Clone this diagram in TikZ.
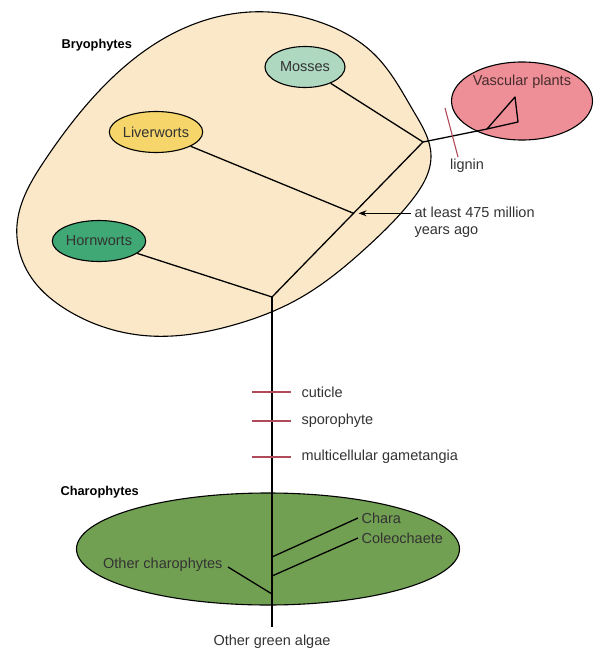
\documentclass[tikz,border=0pt]{standalone}
\usepackage{fontspec}
\setmainfont{Liberation Sans}
\usepackage{tikz}
\usetikzlibrary{hobby, calc, shapes.geometric, arrows.meta}
\definecolor{bryofill}{HTML}{FBE8C8}
\definecolor{mossfill}{HTML}{AED8BF}
\definecolor{liverfill}{HTML}{F6D56A}
\definecolor{hornfill}{HTML}{3FA874}
\definecolor{vascfill}{HTML}{EE8F97}
\definecolor{charofill}{HTML}{72A052}
\definecolor{tickred}{HTML}{B04A5A}
\definecolor{txtgrey}{HTML}{333333}
\tikzset{
    taxon/.style={ellipse, draw, line width=1.1pt, minimum width=80pt, minimum height=41pt,
        inner sep=0pt, font=\fontsize{14.5}{16}\selectfont, text=txtgrey},
    grouplabel/.style={font=\bfseries\fontsize{12.8}{14}\selectfont, anchor=west},
    trait/.style={font=\fontsize{14.5}{17}\selectfont, text=txtgrey, anchor=west},
    branch/.style={line width=1.3pt},
    traittick/.style={tickred, line width=1.1pt},
}

\begin{document}
\begin{tikzpicture}[x=1pt, y=-1pt, use Hobby shortcut]
    \useasboundingbox (0,0) rectangle (596,650);
    % bryophyte blob
    \coordinate (B1) at (17, 225);
    \coordinate (B2) at (33, 280);
    \coordinate (B3) at (67, 310);
    \coordinate (B4) at (150, 336);
    \coordinate (B5) at (230, 326);
    \coordinate (B6) at (300, 298);
    \coordinate (B7) at (367, 247);
    \coordinate (B8) at (412, 200);
    \coordinate (B9) at (431, 156);
    \coordinate (B10) at (414, 112);
    \coordinate (B11) at (374, 54);
    \coordinate (B12) at (325, 24);
    \coordinate (B13) at (250, 12);
    \coordinate (B14) at (180, 30);
    \coordinate (B15) at (100, 90);
    \coordinate (B16) at (45, 160);
    \draw[fill=bryofill, line width=1.1pt]
    ([closed] B1)..(B2)..(B3)..(B4)..(B5)..(B6)..(B7)..(B8)..(B9)..(B10)..(B11)..(B12)..(B13)..(B14)..(B15)..(B16);

    % branching points
    \coordinate (J1) at (423, 142);
    \coordinate (J3) at (272, 297);
    \coordinate (J2) at ($(J3)!0.54!(J1)$);
    \coordinate (V) at (487, 129);
    \coordinate (G) at (272, 627);

    \node[ellipse, draw, line width=1.1pt, fill=charofill, minimum width=383pt, minimum height=112pt] (charo) at (268, 549) {};
    \node[ellipse, draw, line width=1.1pt, fill=vascfill, minimum width=141pt, minimum height=78pt] (vascular) at (522, 101) {};
    \node[trait, anchor=center, text=vascfill!30!black] (vasclabel) at (522, 82) {Vascular plants};

    \node[taxon, fill=mossfill] (mosses) at (305, 67) {Mosses};
    \node[taxon, fill=liverfill] (liverworts) at (156, 132) {Liverworts};
    \node[taxon, fill=hornfill] (hornworts) at (99, 241) {Hornworts};

    \draw[branch] (mosses) -- (J1);
    \draw[branch] (liverworts) -- (J2);
    \draw[branch] (hornworts) -- (J3);
    \draw[branch] (J3) -- (J1) -- (V);
    \draw[branch, line join=round] (V) -- (515, 97) -- (518, 122) -- cycle;
    \draw[branch] (J3) -- (G);

    % lignin
    \coordinate (L1) at (445, 108);
    \coordinate (L2) at (458, 157);
    \draw[traittick] (L1) -- (L2);
    \node[trait, anchor=center] (lignin) at (467, 166) {lignin};

    % age arrow
    \node[trait, align=left, anchor=north west] (age) at (411, 203) {at least 475 million\\years ago};
    \draw[branch, -{Stealth[length=8pt, width=6pt]}] (age.west |- J2) -- ($(J2)+(5,0)$);

    % traits on the trunk
    \foreach \y/\t/\n in {392/cuticle/cut, 421/sporophyte/spo, 457/multicellular gametangia/gam}{
        \draw[traittick] (252, \y) -- (291, \y);
        \node[trait] (\n) at (298, \y) {\t};
    }

    \node[grouplabel] (bryo) at (58, 45) {Bryophytes};
    \node[grouplabel] (charolabel) at (57, 492) {Charophytes};

    % charophyte branches
    \node[trait, text=black!80] (chara) at (358, 518) {Chara};
    \node[trait, text=black!80] (coleo) at (358, 538) {Coleochaete};
    \node[trait, anchor=east, text=black!80] (othercharo) at (226, 565) {Other charophytes};
    \draw[branch] (chara.west) -- (272, 557);
    \draw[branch] (coleo.west) -- (272, 576);
    \draw[branch] (othercharo.east) ++(2,2) -- (272, 594);

    \node[trait, anchor=center] (algae) at (272, 642) {Other green algae};
\end{tikzpicture}
\end{document}
